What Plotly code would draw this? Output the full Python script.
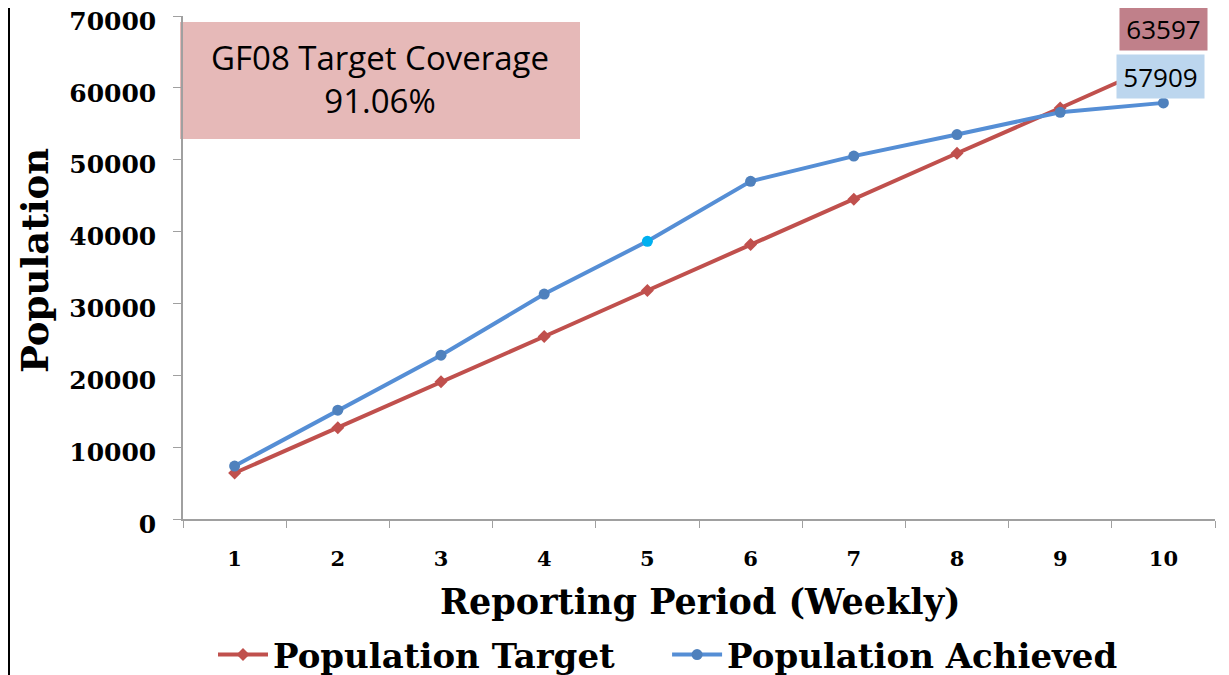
import plotly.graph_objects as go

periods = ["1", "2", "3", "4", "5", "6", "7", "8", "9", "10"]
target = [6400, 12700, 19100, 25400, 31800, 38200, 44500, 50900, 57200, 63597]
achieved = [7370, 15150, 22800, 31300, 38650, 47000, 50500, 53500, 56600, 57909]
achieved_marker_colors = ["#4F81BD"] * 4 + ["#00B0F0"] + ["#4F81BD"] * 5
y_ticks = [0, 10000, 20000, 30000, 40000, 50000, 60000, 70000]

SERIF = "DejaVu Serif"
SANS = "Open Sans"
GAP = "\u00a0" * 4

fig = go.Figure()
fig.add_trace(go.Scatter(
    x=periods, y=target, name="Population Target" + GAP, mode="lines+markers",
    line=dict(color="#C0504D", width=4),
    marker=dict(symbol="diamond", size=10, color="#C0504D"),
))
fig.add_trace(go.Scatter(
    x=periods, y=achieved, name="Population Achieved", mode="lines+markers",
    line=dict(color="#558ED5", width=4),
    marker=dict(symbol="circle", size=11, color=achieved_marker_colors),
))

OFF = 8  # page body margin
W, H = 1229, 675
L, T = 183 - OFF, 16 - OFF
R = W - (1215 - OFF)
B = H - (519 - OFF)
pw, ph = W - L - R, H - T - B

def px(x):
    return (x - OFF - L) / pw

def py(y):
    return (H - B - (y - OFF)) / ph

fig.update_layout(
    width=W, height=H,
    margin=dict(l=L, r=R, t=T, b=B, autoexpand=False),
    plot_bgcolor="white", paper_bgcolor="white",
    showlegend=True,
    legend=dict(orientation="h", x=px(668), xanchor="center", y=py(655), yanchor="middle",
                font=dict(family=SERIF, size=34, color="black", weight="bold"),
                itemwidth=50, tracegroupgap=0),
    xaxis=dict(type="category", range=[-0.5, 9.5], showgrid=False, showline=True,
               linecolor="#A0A0A0", linewidth=1.5, ticks="outside", ticklen=7,
               tickcolor="#A0A0A0", tickson="boundaries", automargin=False,
               tickfont=dict(family=SERIF, size=21, color="black", weight="bold"),
               ticklabelstandoff=20),
    yaxis=dict(range=[0, 70000], tickvals=y_ticks, tickformat="d", showgrid=False,
               showline=True, automargin=False, ticklabeloverflow="allow",
               linecolor="#A0A0A0", linewidth=1.5, ticks="outside", ticklen=8,
               tickcolor="#A0A0A0", zeroline=False, ticklabelshift=5,
               tickfont=dict(family=SERIF, size=25, color="black", weight="bold"),
               ticklabelstandoff=12),
)

# axis titles
fig.add_annotation(text="Reporting Period (Weekly)", xref="paper", yref="paper",
                   x=px(700), y=py(601), xanchor="center", yanchor="middle",
                   showarrow=False,
                   font=dict(family=SERIF, size=35, color="black", weight="bold"))
fig.add_annotation(text="Population", xref="paper", yref="paper",
                   x=px(35), y=py(261), xanchor="center", yanchor="middle",
                   showarrow=False, textangle=-90,
                   font=dict(family=SERIF, size=37, color="black", weight="bold"))

# coverage box
fig.add_shape(type="rect", xref="paper", yref="paper",
              x0=px(180), x1=px(580), y0=py(139), y1=py(22),
              fillcolor="#E6B9B8", line=dict(width=0), layer="below")
fig.add_annotation(text="GF08 Target Coverage<br>91.06%", xref="paper", yref="paper",
                   x=px(380), y=py(79), xanchor="center", yanchor="middle",
                   showarrow=False,
                   font=dict(family=SANS, size=33, color="black"))

# data labels
last = len(periods) - 1
fig.add_annotation(x=last, y=target[-1], text=str(target[-1]),
                   showarrow=False, yshift=34, bgcolor="#C0808A", borderpad=0,
                   width=87, height=43,
                   font=dict(family=SANS, size=26, color="black"))
fig.add_annotation(x=last, y=achieved[-1], text=str(achieved[-1]),
                   showarrow=False, yshift=26, xshift=-3, bgcolor="#BCD6EE", borderpad=0,
                   width=87, height=43,
                   font=dict(family=SANS, size=26, color="black"))

# left border line
fig.add_shape(type="line", xref="paper", yref="paper",
              x0=px(9), x1=px(9), y0=py(690), y1=py(0),
              line=dict(color="black", width=2))

fig.write_html("out.html")
